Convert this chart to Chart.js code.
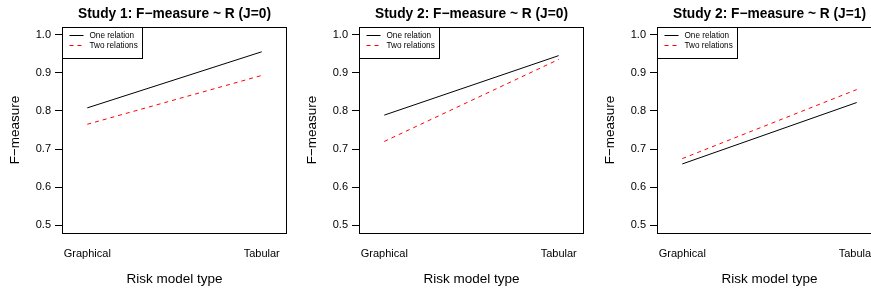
<!DOCTYPE html>
<html>
<head>
<meta charset="utf-8">
<script src="https://cdn.jsdelivr.net/npm/chart.js@4.4.1/dist/chart.umd.min.js"></script>
<style>
  html, body { margin: 0; padding: 0; background: #fff; overflow: hidden; width: 871px; height: 291px; }
  .panel { position: absolute; top: 0; }
</style>
</head>
<body>
<div class="panel" style="left:0px"><canvas id="c0" width="297" height="291"></canvas></div>
<div class="panel" style="left:297px"><canvas id="c1" width="297" height="291"></canvas></div>
<div class="panel" style="left:595px"><canvas id="c2" width="297" height="291"></canvas></div>
<script>
// ---- Data ----
const categories = ['Graphical', 'Tabular'];
const seriesLabels = ['One relation', 'Two relations'];
const panelTitles = [
  'Study 1: F\u2212measure ~ R (J=0)',
  'Study 2: F\u2212measure ~ R (J=0)',
  'Study 2: F\u2212measure ~ R (J=1)'
];
const study1J0One = [0.808, 0.955];
const study1J0Two = [0.765, 0.893];
const study2J0One = [0.789, 0.945];
const study2J0Two = [0.720, 0.935];
const study2J1One = [0.661, 0.822];
const study2J1Two = [0.675, 0.856];
const yTicks = [0.5, 0.6, 0.7, 0.8, 0.9, 1.0];
const xLabel = 'Risk model type';
const yLabel = 'F\u2212measure';

const panels = [
  [study1J0One, study1J0Two],
  [study2J0One, study2J0Two],
  [study2J1One, study2J1Two]
];

const FONT = "'Liberation Sans', Arial, Helvetica, sans-serif";

// Centre the title over the plot box (as R does) instead of the whole canvas
const titleCenterPlugin = {
  id: 'titleCenter',
  afterLayout(chart) {
    const tb = chart.titleBlock;
    if (tb) {
      tb.left = chart.chartArea.left;
      tb.right = chart.chartArea.right;
      tb.width = chart.chartArea.right - chart.chartArea.left;
    }
  }
};

const boxPlugin = {
  id: 'rbox',
  afterDatasetsDraw(chart) {
    const {ctx, chartArea: a} = chart;
    ctx.save();
    ctx.strokeStyle = '#000';
    ctx.lineWidth = 1;
    ctx.strokeRect(Math.round(a.left) + 0.5, Math.round(a.top) + 0.5,
                   Math.round(a.right - a.left) - 1, Math.round(a.bottom - a.top));
    // legend box in the top-left corner
    const lx = Math.round(a.left) + 0.5, ly = Math.round(a.top) + 0.5;
    const lw = 80, lh = 31;
    ctx.strokeRect(lx, ly, lw, lh);
    ctx.font = '8.2px ' + FONT;
    ctx.textBaseline = 'middle';
    ctx.textAlign = 'left';
    chart.data.datasets.forEach((ds, i) => {
      const yy = ly + 8 + i * 10;
      ctx.beginPath();
      ctx.strokeStyle = ds.borderColor;
      ctx.setLineDash(ds.borderDash || []);
      ctx.moveTo(lx + 7, yy);
      ctx.lineTo(lx + 21, yy);
      ctx.stroke();
      ctx.setLineDash([]);
      ctx.fillStyle = '#000';
      ctx.fillText(ds.label, lx + 27, yy);
    });
    ctx.restore();
  }
};

panels.forEach((vals, p) => {
  const datasets = [
    {
      label: seriesLabels[0],
      data: vals[0].map((v, i) => ({x: i + 1, y: v})),
      borderColor: '#000',
      borderWidth: 1,
      pointRadius: 0,
      fill: false,
      tension: 0
    },
    {
      label: seriesLabels[1],
      data: vals[1].map((v, i) => ({x: i + 1, y: v})),
      borderColor: '#ff0000',
      borderWidth: 1,
      borderDash: [4, 4],
      pointRadius: 0,
      fill: false,
      tension: 0
    }
  ];
  new Chart(document.getElementById('c' + p), {
    type: 'line',
    data: { datasets },
    plugins: [titleCenterPlugin, boxPlugin],
    options: {
      responsive: false,
      animation: false,
      devicePixelRatio: 1,
      layout: { padding: { left: 0, right: 10, top: 0, bottom: 0 } },
      plugins: {
        legend: { display: false },
        tooltip: { enabled: false },
        title: {
          display: true,
          text: panelTitles[p],
          color: '#000',
          font: { family: FONT, size: 13.75, weight: 'bold' },
          padding: { top: 6, bottom: 4.5 }
        }
      },
      scales: {
        x: {
          type: 'linear',
          min: 0.855,
          max: 2.145,
          afterBuildTicks: (s) => { s.ticks = categories.map((c, i) => ({value: i + 1})); },
          afterFit: (s) => { s.height = 58; },
          ticks: {
            callback: (v) => categories[Math.round(v) - 1] || '',
            color: '#000',
            font: { family: FONT, size: 11 },
            padding: 14.5,
            maxRotation: 0,
            autoSkip: false
          },
          grid: { display: false, drawTicks: false },
          border: { display: false },
          title: {
            display: true,
            text: xLabel,
            color: '#000',
            font: { family: FONT, size: 13.5 },
            padding: { top: 4, bottom: 3.5 }
          }
        },
        y: {
          type: 'linear',
          min: 0.48,
          max: 1.02,
          afterBuildTicks: (s) => { s.ticks = yTicks.map(v => ({value: v})); },
          afterFit: (s) => { s.width = 62; },
          ticks: {
            callback: (v) => Number(v).toFixed(1),
            color: '#000',
            font: { family: FONT, size: 11 },
            padding: 4
          },
          grid: {
            display: true,
            drawOnChartArea: false,
            drawTicks: true,
            tickLength: 7,
            color: '#000',
            lineWidth: 1
          },
          border: { display: true, color: '#000', width: 1 },
          title: {
            display: true,
            text: yLabel,
            color: '#000',
            font: { family: FONT, size: 13.5 },
            padding: { top: 7, bottom: 4 }
          }
        }
      }
    }
  });
});
</script>
</body>
</html>
